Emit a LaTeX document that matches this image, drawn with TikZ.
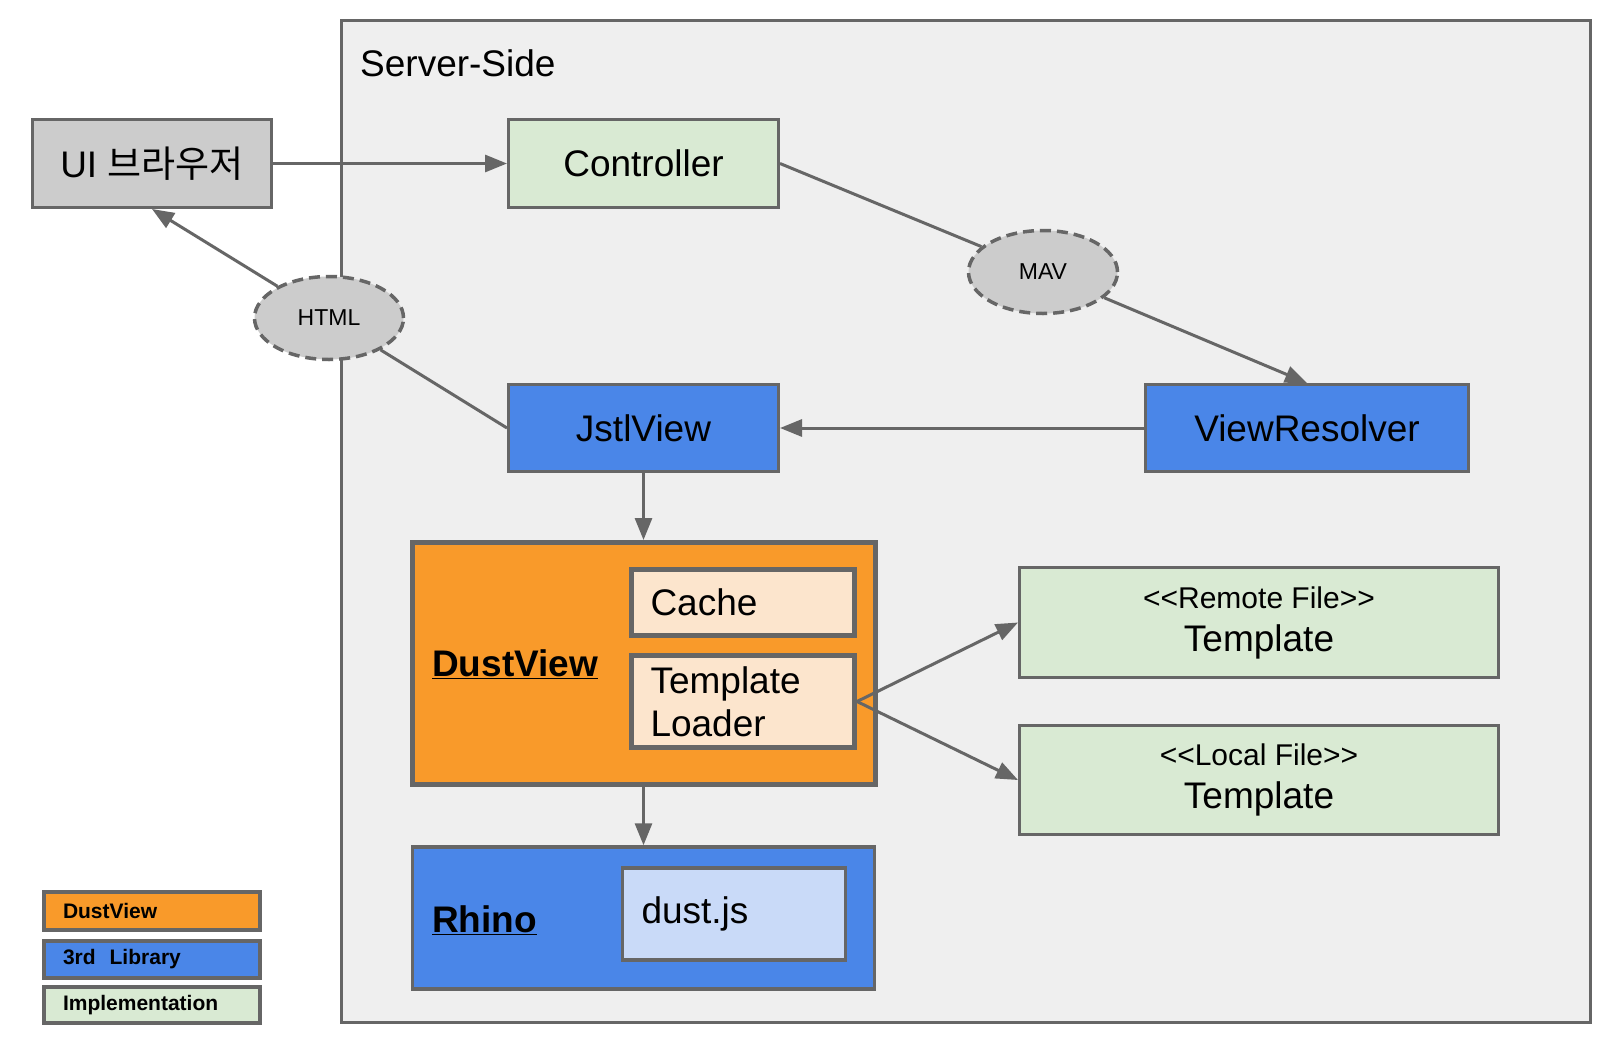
\documentclass[tikz,border=0pt]{standalone}
\usepackage{fontspec}
\setmainfont{Liberation Sans}
\newfontfamily\krfont{Noto Sans CJK KR}
\usetikzlibrary{shapes.geometric,arrows.meta}
\definecolor{bordergray}{HTML}{666666}
\definecolor{lightgray}{HTML}{CCCCCC}
\definecolor{serverbg}{HTML}{EFEFEF}
\definecolor{implgreen}{HTML}{D9EAD3}
\definecolor{libblue}{HTML}{4A86E8}
\definecolor{dustorange}{HTML}{F99A2A}
\definecolor{peach}{HTML}{FCE5CD}
\definecolor{paleblue}{HTML}{C9DAF8}
\newcommand{\bigtxt}{\fontsize{37}{43}\selectfont}
\newcommand{\midtxt}{\fontsize{30}{36}\selectfont}
\newcommand{\smalltxt}{\fontsize{23}{26}\selectfont}
\newcommand{\legtxt}{\fontsize{21}{24}\selectfont\bfseries}
\tikzset{
  box/.style={draw=bordergray, line width=3pt, rectangle, inner sep=0pt, align=center, font=\bigtxt},
  lbox/.style={box, align=left, inner xsep=19pt},
  tag/.style={ellipse, draw=bordergray, fill=lightgray, line width=3.5pt, dash pattern=on 11pt off 6pt, inner sep=0pt, minimum width=149pt, minimum height=83pt, font=\smalltxt},
  conn/.style={draw=bordergray, line width=3pt},
  arr/.style={conn, -{Triangle[length=22pt,width=17pt]}},
  legbox/.style={box, line width=4pt, minimum width=216pt, align=left, inner xsep=19pt, text width=178pt, font=\legtxt}
}
\begin{document}
\begin{tikzpicture}[x=1pt,y=-1pt]
\useasboundingbox[fill=white] (0,0) rectangle (1614,1044);
% server side container
\node[draw=bordergray, fill=serverbg, line width=3pt, rectangle, inner sep=0pt, minimum width=1249pt, minimum height=1002pt] (server) at (966,521.5) {};
\node[anchor=base west, font=\bigtxt, inner sep=0pt] (servertitle) at (360,76) {Server-Side};
% main boxes
\node[box, fill=lightgray, minimum width=239pt, minimum height=88pt] (ui) at (152,163.5) {UI {\krfont 브라우저}};
\node[box, fill=implgreen, minimum width=270pt, minimum height=88pt] (ctrl) at (643.5,163.5) {Controller};
\node[box, fill=libblue, minimum width=270pt, minimum height=87pt] (jstl) at (643.5,428) {JstlView};
\node[box, fill=libblue, minimum width=323pt, minimum height=87pt] (vr) at (1307,428) {ViewResolver};
% DustView
\node[box, fill=dustorange, line width=5pt, minimum width=463pt, minimum height=242pt] (dust) at (643.5,663.5) {};
\node[anchor=base west, font=\bigtxt\bfseries, inner sep=0pt] (dustlbl) at (432,676) {\underline{DustView}};
\node[lbox, fill=peach, line width=5pt, minimum height=66pt, text width=185pt] (cache) at (743,602.5) {Cache};
\node[lbox, fill=peach, line width=5pt, minimum height=92pt, text width=185pt] (tl) at (743,701.5) {Template\\Loader};
% Rhino
\node[box, fill=libblue, line width=3.5pt, minimum width=462pt, minimum height=142pt] (rhino) at (643.5,918) {};
\node[anchor=base west, font=\bigtxt\bfseries, inner sep=0pt] (rhinolbl) at (432,932) {\underline{Rhino}};
\node[lbox, fill=paleblue, line width=3.5pt, minimum height=92pt, text width=185pt] (djs) at (734,914) {dust.js};
% templates
\node[box, fill=implgreen, minimum width=479pt, minimum height=110pt] (remote) at (1259,622.5) {{\midtxt <{}<Remote File>{}>}\\Template};
\node[box, fill=implgreen, minimum width=479pt, minimum height=109pt] (local) at (1259,780) {{\midtxt <{}<Local File>{}>}\\Template};
% tags
\node[tag] (html) at (329,318) {HTML};
\node[tag] (mav) at (1043,272) {MAV};
% connectors
\draw[arr] (ui.east) -- (ctrl.west);
\draw[conn] (ctrl.east) -- (mav);
\draw[arr] (mav) -- (vr.north);
\draw[arr] (vr.west) -- (jstl.east);
\draw[conn] (jstl.west) -- (html);
\draw[arr] (html) -- (ui.south);
\draw[arr] (jstl.south) -- (dust.north);
\draw[arr] (dust.south) -- (rhino.north);
\draw[arr] (tl.east) -- (remote.west);
\draw[arr] (tl.east) -- (local.west);
% legend
\node[legbox, fill=dustorange, minimum height=38pt] (legdust) at (152,911) {DustView};
\node[legbox, fill=libblue, minimum height=37pt] (leglib) at (152,959.5) {3rd\ \ Library};
\node[legbox, fill=implgreen, minimum height=36pt] (legimpl) at (152,1005) {Implementation};
\end{tikzpicture}
\end{document}
